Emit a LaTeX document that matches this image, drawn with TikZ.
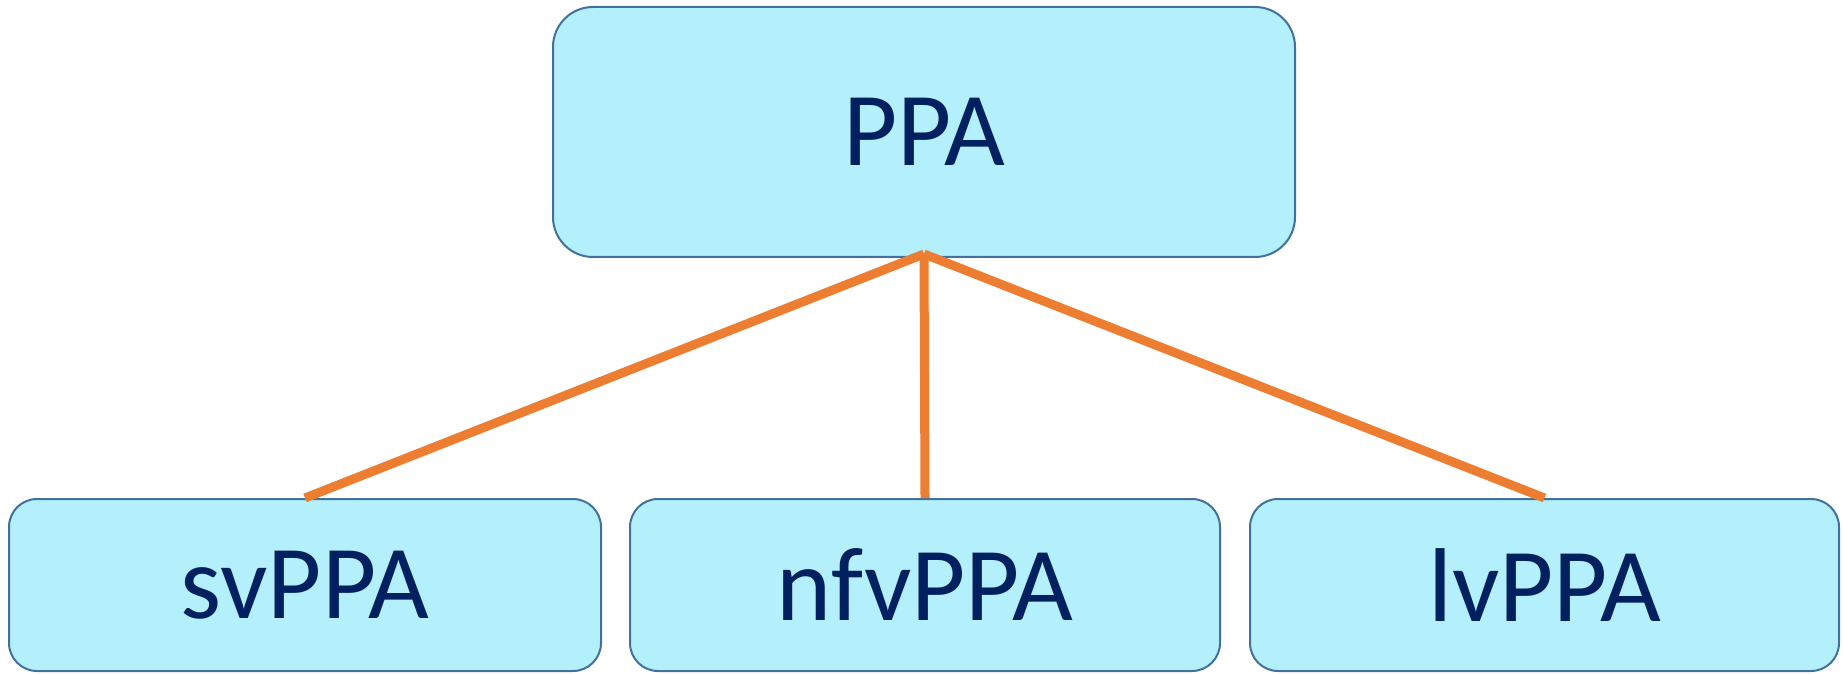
\documentclass[tikz,border=0pt]{standalone}
\usepackage{fontspec}
\setmainfont{Carlito}
\definecolor{boxfill}{RGB}{180,240,251}
\definecolor{boxline}{RGB}{65,113,156}
\definecolor{textnavy}{RGB}{0,32,96}
\definecolor{linkorange}{RGB}{237,125,49}
\begin{document}
\begin{tikzpicture}[x=1pt,y=1pt,
  classbox/.style={draw=boxline, line width=2pt, fill=boxfill, rounded corners=#1,
    text=textnavy, font=\fontsize{105}{120}\selectfont, inner sep=0pt},
  link/.style={draw=linkorange, line width=9pt, line cap=butt}]
\useasboundingbox (0,0) rectangle (1843,673);
\node[classbox=40pt, minimum width=742pt, minimum height=250pt] (ppa) at (924,541) {PPA};
\node[classbox=28pt, minimum width=592pt, minimum height=172pt] (sv) at (305,88) {svPPA};
\node[classbox=28pt, minimum width=590pt, minimum height=172pt] (nfv) at (925,88) {nfvPPA};
\node[classbox=28pt, minimum width=589pt, minimum height=172pt] (lv) at (1544.5,88) {lvPPA};
\draw[link] ([yshift=4pt]ppa.south) -- (sv.north);
\draw[link] ([yshift=4pt]ppa.south) -- (nfv.north);
\draw[link] ([yshift=4pt]ppa.south) -- (lv.north);
\end{tikzpicture}
\end{document}
